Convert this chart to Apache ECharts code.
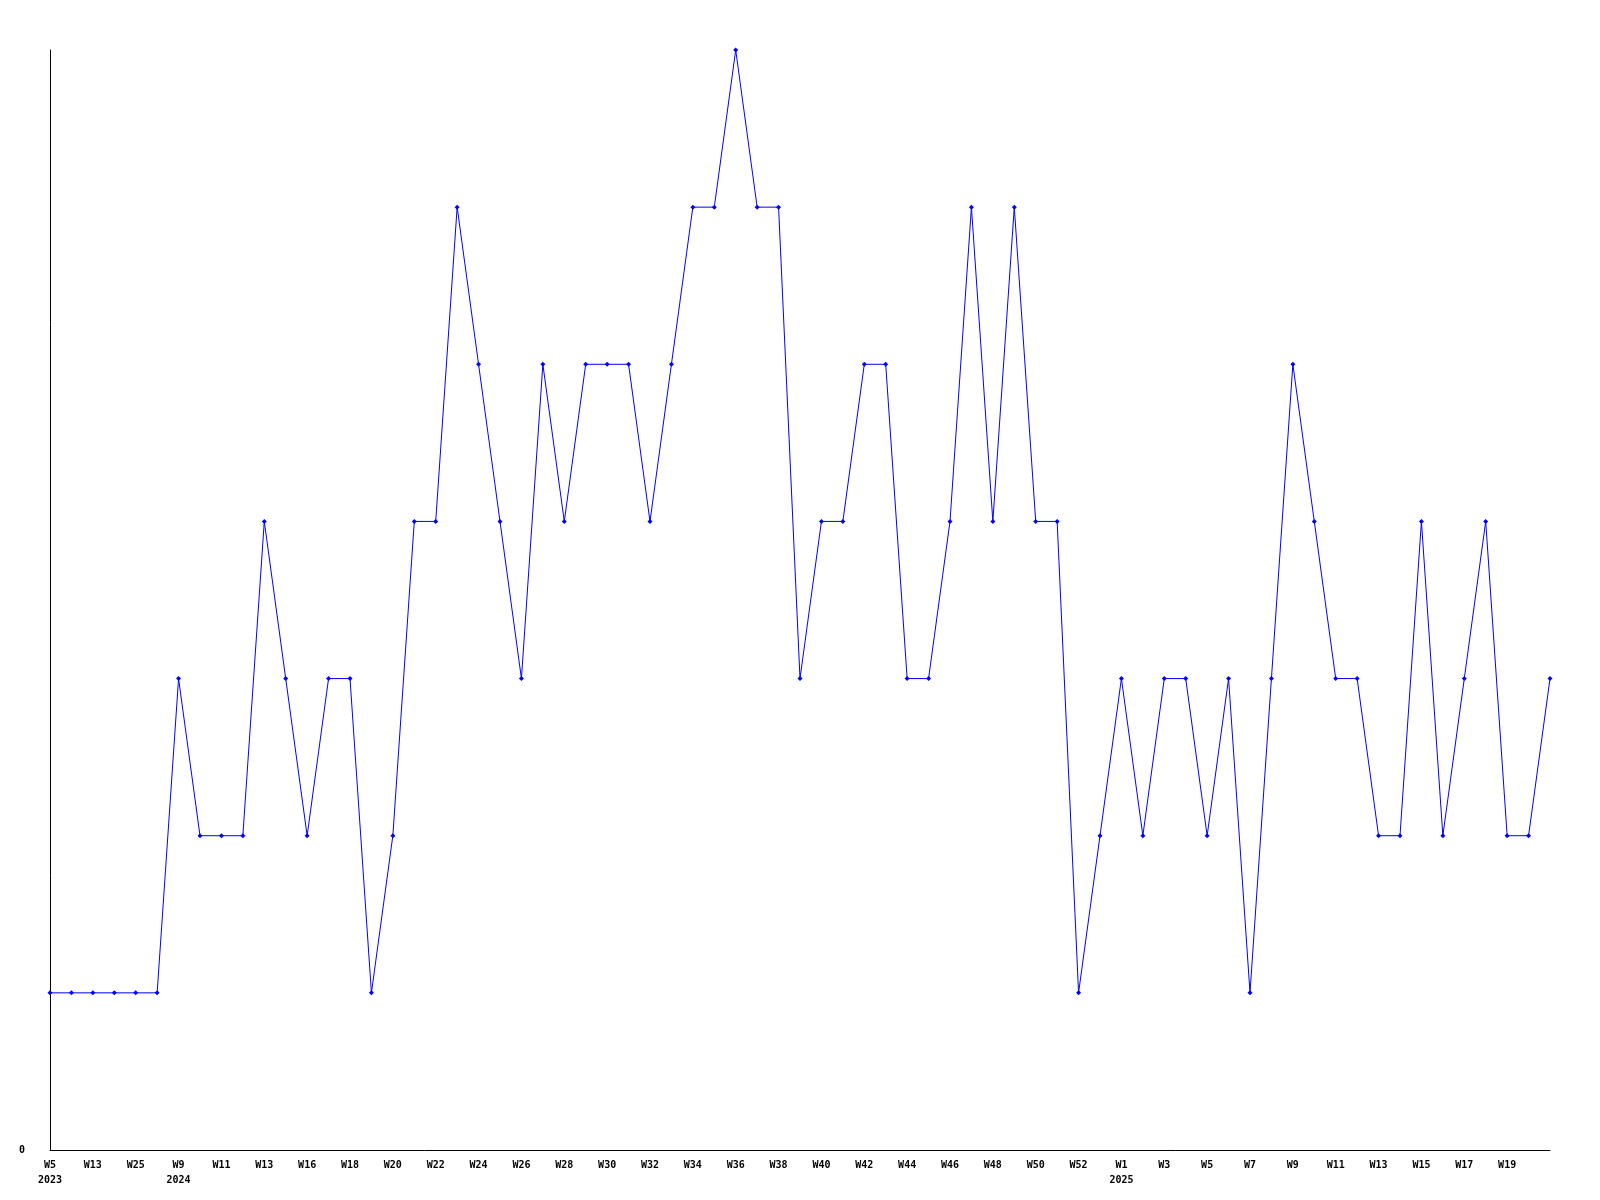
<!DOCTYPE html>
<html>
<head>
<meta charset="utf-8">
<script src="https://cdn.jsdelivr.net/npm/echarts@6/dist/echarts.min.js"></script>
<style>
  html, body { margin: 0; padding: 0; background: #fff; }
  #chart { width: 1600px; height: 1200px; }
</style>
</head>
<body>
<div id="chart"></div>
<script>
// Week labels (every other label is shown, matching the reference)
const weeks = [
  "W5\n2023", "W9", "W13", "W20", "W25", "W40",
  "W9\n2024", "W10", "W11", "W12", "W13", "W15", "W16", "W17", "W18", "W19",
  "W20", "W21", "W22", "W23", "W24", "W25", "W26", "W27", "W28", "W29",
  "W30", "W31", "W32", "W33", "W34", "W35", "W36", "W37", "W38", "W39",
  "W40", "W41", "W42", "W43", "W44", "W45", "W46", "W47", "W48", "W49",
  "W50", "W51", "W52", "W53",
  "W1\n2025", "W2", "W3", "W4", "W5", "W6", "W7", "W8", "W9", "W10",
  "W11", "W12", "W13", "W14", "W15", "W16", "W17", "W18", "W19", "W20", "W21"
];

const values = [
  1, 1, 1, 1, 1, 1,
  3, 2, 2, 2, 4, 3, 2, 3, 3, 1,
  2, 4, 4, 6, 5, 4, 3, 5, 4, 5,
  5, 5, 4, 5, 6, 6, 7, 6, 6, 3,
  4, 4, 5, 5, 3, 3, 4, 6, 4, 6,
  4, 4, 1, 2,
  3, 2, 3, 3, 2, 3, 1, 3, 5, 4,
  3, 3, 2, 2, 4, 2, 3, 4, 2, 2, 3
];

const yTickLabels = ["0"];

const chart = echarts.init(document.getElementById('chart'));
const fontFamily = '"DejaVu Sans Mono", monospace';
const lastIndex = weeks.length - 1;

chart.setOption({
  animation: false,
  backgroundColor: '#ffffff',
  grid: { left: 50, right: 50, top: 50, bottom: 50, containLabel: false },
  xAxis: {
    type: 'category',
    data: weeks,
    boundaryGap: false,
    axisLine: { show: true, onZero: false, lineStyle: { color: '#000', width: 1 } },
    axisTick: { show: false },
    splitLine: { show: false },
    axisLabel: {
      interval: function (i) { return i % 2 === 0 && i < lastIndex; },
      margin: 8,
      color: '#000',
      fontFamily: fontFamily,
      fontWeight: 'bold',
      fontSize: 10,
      lineHeight: 15,
      align: 'center'
    }
  },
  yAxis: {
    type: 'value',
    min: 0,
    max: 7,
    interval: 7,
    axisLine: { show: true, lineStyle: { color: '#000', width: 1 } },
    axisTick: { show: false },
    splitLine: { show: false },
    axisLabel: {
      margin: 25,
      color: '#000',
      fontFamily: fontFamily,
      fontWeight: 'bold',
      fontSize: 10,
      formatter: function (v) {
        return v === 0 ? yTickLabels[0] : '';
      }
    }
  },
  series: [{
    type: 'line',
    data: values,
    symbol: 'diamond',
    symbolSize: 5,
    showAllSymbol: true,
    lineStyle: { color: '#0000ff', width: 1 },
    itemStyle: { color: '#0000ff' },
    emphasis: { disabled: true }
  }]
});
</script>
</body>
</html>
